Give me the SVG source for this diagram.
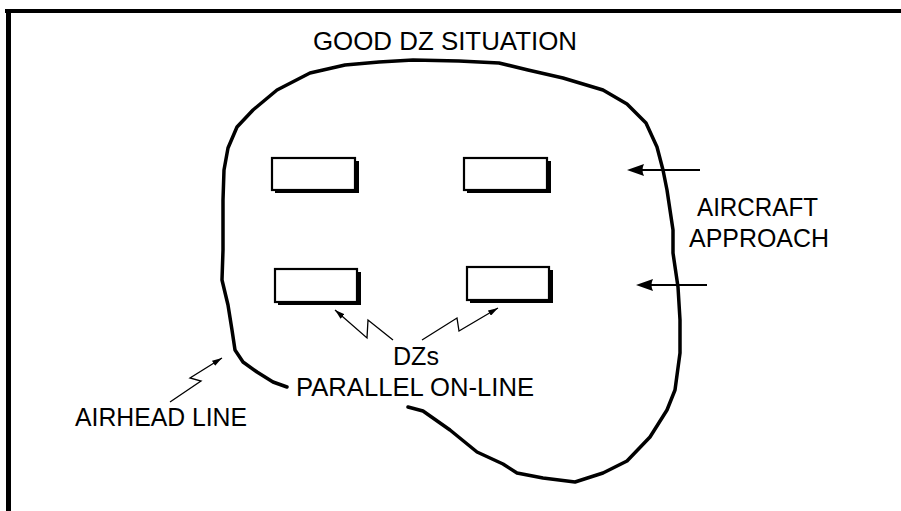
<svg xmlns="http://www.w3.org/2000/svg" width="901" height="511" viewBox="0 0 901 511">
<defs>
<style>
.t{font-family:"Liberation Sans",Arial,sans-serif;font-size:26px;fill:#000}
.blob{fill:none;stroke:#000;stroke-width:3.5;stroke-linejoin:round;stroke-linecap:round}
.dz{fill:#fff;stroke:#000;stroke-width:2.2}
.sh{fill:#000}
.thin{fill:none;stroke:#000;stroke-width:1.3}
.ac{fill:none;stroke:#000;stroke-width:1.8}
.head{fill:#000}
</style>
<marker id="sm" viewBox="0 0 10 6" refX="10" refY="3" markerWidth="10" markerHeight="6" markerUnits="userSpaceOnUse" orient="auto">
<path d="M0,0 L10,3 L0,6 Z" fill="#000"/>
</marker>
</defs>
<g id="frame">
<line x1="5" y1="11" x2="901" y2="11" stroke="#000" stroke-width="4"/>
<line x1="8.5" y1="9" x2="8.5" y2="511" stroke="#000" stroke-width="5"/>
</g>
<g id="airhead-boundary">
<path class="blob" d="M287,387 L273,382 L257,372 L243,362 L235,350 L232,330 L228,305 L222,280 L223,250 L223,200 L224,170 L228,148 L237,127 L253,110 L277,90 L310,73 L345,65 L379,62 L413,60 L459,61 L499,63 L528,70 L563,78 L603,90 L627,104 L646,123 L657,147 L663,170 L667,190 L673,230 L673,253 L678,287 L680,320 L680,353 L675,390 L667,410 L650,437 L627,461 L603,473 L575,482 L543,478 L517,473 L503,464 L477,452 L450,430 L423,411 L408,407"/>
</g>
<g id="dz1"><rect class="sh" x="275" y="161" width="84" height="32"/><rect class="dz" x="272" y="158" width="83" height="32"/></g>
<g id="dz2"><rect class="sh" x="467" y="161" width="84" height="32"/><rect class="dz" x="464" y="158" width="83" height="32"/></g>
<g id="dz3"><rect class="sh" x="278" y="272" width="83" height="33"/><rect class="dz" x="275" y="269" width="82" height="33"/></g>
<g id="dz4"><rect class="sh" x="470" y="270" width="83" height="33"/><rect class="dz" x="467" y="267" width="82" height="33"/></g>
<g id="connectors">
<path class="thin" d="M393,340 L368,320 L367,338 L335,310" marker-end="url(#sm)"/>
<path class="thin" d="M422,340 L457,318 L459,331 L498,308" marker-end="url(#sm)"/>
<path class="thin" d="M170,402 L201,381 L190,378 L222,358" marker-end="url(#sm)"/>
<line class="ac" x1="700" y1="170" x2="640" y2="170"/>
<path class="head" d="M627,170 L644,164 Q641,170 644,176 Z"/>
<line class="ac" x1="707" y1="285" x2="649" y2="285"/>
<path class="head" d="M636,285 L653,279 Q650,285 653,291 Z"/>
</g>
<g id="labels">
<text class="t" x="313" y="50" textLength="264" lengthAdjust="spacingAndGlyphs">GOOD DZ SITUATION</text>
<text class="t" x="697" y="216" textLength="121" lengthAdjust="spacingAndGlyphs">AIRCRAFT</text>
<text class="t" x="689" y="247" textLength="140" lengthAdjust="spacingAndGlyphs">APPROACH</text>
<text class="t" x="393" y="365" textLength="46" lengthAdjust="spacingAndGlyphs">DZs</text>
<text class="t" x="296" y="396" textLength="238" lengthAdjust="spacingAndGlyphs">PARALLEL ON-LINE</text>
<text class="t" x="75" y="426" textLength="172" lengthAdjust="spacingAndGlyphs">AIRHEAD LINE</text>
</g>
</svg>
